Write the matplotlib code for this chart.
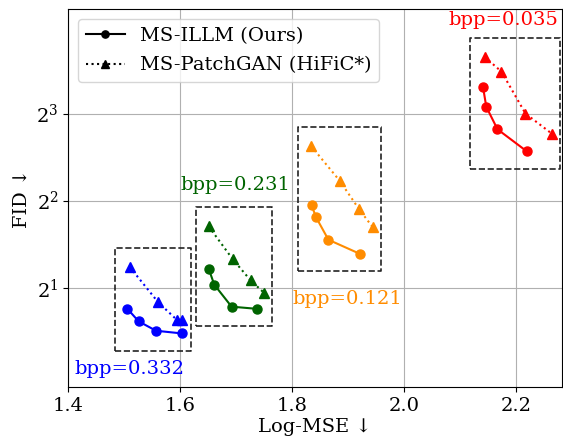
import matplotlib
matplotlib.use('Agg')
import matplotlib.pyplot as plt
import numpy as np

plt.rcParams['font.family'] = ['DejaVu Serif', 'DejaVu Sans']
plt.rcParams['mathtext.fontset'] = 'dejavuserif'
plt.rcParams['font.size'] = 14

# ── rate points (one group per bpp) ────────────────────────────────────────
BPP = ['0.332', '0.231', '0.121', '0.035']
COLORS = ['blue', 'darkgreen', 'darkorange', 'red']

ILLM_MSE = [[1.506, 1.526, 1.557, 1.603],
            [1.651, 1.661, 1.692, 1.738],
            [1.835, 1.843, 1.865, 1.921],
            [2.141, 2.147, 2.167, 2.219]]
ILLM_FID = [[1.69, 1.53, 1.42, 1.39],
            [2.33, 2.05, 1.72, 1.69],
            [3.85, 3.50, 2.93, 2.62],
            [9.92, 8.44, 7.06, 5.93]]

PATCH_MSE = [[1.510, 1.561, 1.594, 1.604],
             [1.651, 1.694, 1.726, 1.750],
             [1.834, 1.885, 1.920, 1.944],
             [2.144, 2.174, 2.217, 2.264]]
PATCH_FID = [[2.36, 1.78, 1.55, 1.55],
             [3.26, 2.51, 2.12, 1.92],
             [6.18, 4.69, 3.73, 3.24],
             [12.56, 11.18, 8.00, 6.82]]

# where each bpp tag sits (left edge, vertical centre)
LABEL_POS = [(1.411, 1.05), (1.601, 4.52), (1.801, 1.83), (2.080, 16.9)]

fig = plt.figure(figsize=(5.63, 4.37), dpi=100)
ax = fig.add_axes([0.121, 0.114, 0.877, 0.865])
ax.set_yscale('log', base=2)

for i, c in enumerate(COLORS):
    ax.plot(ILLM_MSE[i], ILLM_FID[i], '-o', color=c, lw=1.5, ms=6.5,
            label='MS-ILLM (Ours)' if i == 0 else None)
    ax.plot(PATCH_MSE[i], PATCH_FID[i], ':^', color=c, lw=1.5, ms=6.5,
            label='MS-PatchGAN (HiFiC*)' if i == 0 else None)

    # dashed box around the group
    xs = np.array(ILLM_MSE[i] + PATCH_MSE[i])
    ys = np.log2(ILLM_FID[i] + PATCH_FID[i])
    x0, x1 = xs.min() - 0.023, xs.max() + 0.015
    y0, y1 = 2 ** (ys.min() - 0.2), 2 ** (ys.max() + 0.22)
    ax.plot([x0, x1, x1, x0, x0], [y0, y0, y1, y1, y0], '--',
            color='#222222', lw=1.2, zorder=1)

    lx, ly = LABEL_POS[i]
    ax.text(lx, ly, f'bpp={BPP[i]}', color=c, fontsize=14,
            ha='left', va='center')

ax.set_xlim(1.4, 2.282)
ax.set_ylim(0.906, 18.37)
ax.set_xticks([1.4, 1.6, 1.8, 2.0, 2.2])
ax.set_yticks([2, 4, 8])
ax.grid(True, color='#b0b0b0', lw=0.8)
ax.set_axisbelow(True)

ax.set_xlabel('Log-MSE ↓', labelpad=2)
ax.set_ylabel('FID ↓')

leg = ax.legend(loc='upper left', fontsize=14, markerscale=0.8,
                labelspacing=0.6)
for h in leg.legend_handles:
    h.set_color('black')

fig.savefig('out.png', dpi=100)
